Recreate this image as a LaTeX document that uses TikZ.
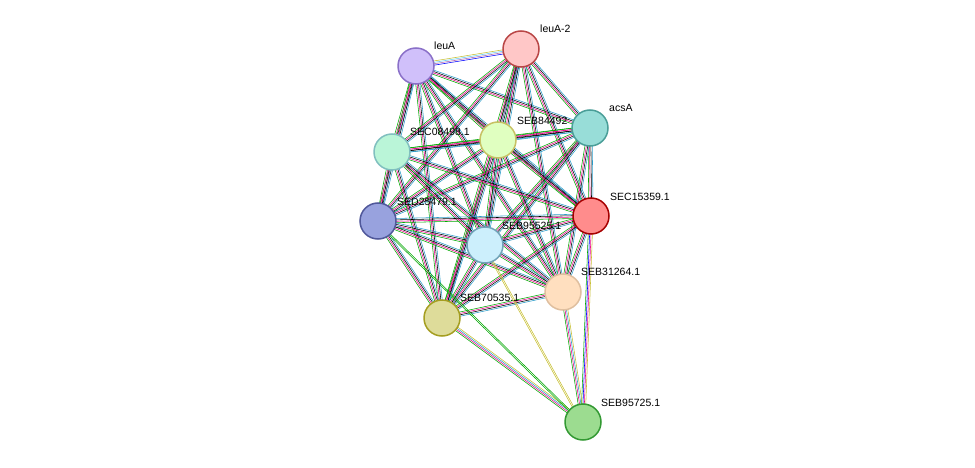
\documentclass[tikz,border=0pt]{standalone}
\usepackage{fontspec}
\setmainfont{Liberation Sans}
\usetikzlibrary{calc}
\definecolor{cleuA}{HTML}{D0C0FA}
\definecolor{cleuAb}{HTML}{8A70C8}
\definecolor{cacsA}{HTML}{98DDD8}
\definecolor{cacsAb}{HTML}{4A9E98}
\definecolor{c84492}{HTML}{E0FFC0}
\definecolor{c08498}{HTML}{BAF5D8}
\definecolor{c25479}{HTML}{98A2DE}
\definecolor{c25479b}{HTML}{50589A}
\definecolor{c95725}{HTML}{9CDC90}
\definecolor{c70535}{HTML}{DEDC9A}
\tikzset{
  prot/.style={circle,draw,line width=1.5pt,minimum size=36pt,inner sep=0pt},
  lab/.style={anchor=south west,inner sep=0pt,font=\fontsize{10.5}{10.5}\selectfont},
  strand/.style={line width=0.55pt},
}
\newcommand\bundle[3]{%
  \foreach \c [count=\i] in {#3}{%
    \pgfmathsetmacro\o{(\i-2.5)*1.4}%
    \draw[strand,\c] ($(#1)!\o pt!90:(#2)$) -- ($(#2)!\o pt!-90:(#1)$);}}
\begin{document}
\begin{tikzpicture}[x=1pt,y=1pt]
  \useasboundingbox (0,0) rectangle (975,-468);
  % positions
  \coordinate (leuA) at (416,-66);
  \coordinate (leuA2) at (521,-49);
  \coordinate (acsA) at (590,-128);
  \coordinate (s84492) at (498,-140);
  \coordinate (s08498) at (392,-152);
  \coordinate (s25479) at (378,-221);
  \coordinate (s15359) at (591,-216);
  \coordinate (s95525) at (485,-245);
  \coordinate (s31264) at (563,-292);
  \coordinate (s70535) at (442,-318);
  \coordinate (s95725) at (583,-422);
  % edges
  \foreach \a/\b in {leuA/acsA,leuA/s84492,leuA/s08498,leuA/s25479,leuA/s15359,leuA/s95525,leuA/s31264,leuA/s70535,
      leuA2/acsA,leuA2/s84492,leuA2/s08498,leuA2/s25479,leuA2/s15359,leuA2/s95525,leuA2/s31264,leuA2/s70535,
      acsA/s84492,acsA/s08498,acsA/s25479,acsA/s15359,acsA/s95525,acsA/s31264,acsA/s70535,
      s84492/s08498,s84492/s25479,s84492/s15359,s84492/s95525,s84492/s31264,s84492/s70535,
      s08498/s25479,s08498/s15359,s08498/s95525,s08498/s31264,s08498/s70535,
      s25479/s15359,s25479/s95525,s25479/s31264,s25479/s70535,
      s15359/s95525,s15359/s31264,s15359/s70535,
      s95525/s31264,s95525/s70535,s31264/s70535}
    {\bundle{\a}{\b}{green!65!black,magenta,black,cyan!80!black}}
  \bundle{leuA}{leuA2}{blue,violet!60,cyan!60,yellow!75!black}
  \bundle{s15359}{s95725}{green!65!black,blue,magenta,yellow!75!black}
  \bundle{s31264}{s95725}{green!65!black,magenta,cyan!80!black,yellow!75!black}
  \bundle{s70535}{s95725}{green!65!black,magenta,cyan!80!black,yellow!75!black}
  \bundle{s25479}{s95725}{green!65!black,green!65!black}
  \bundle{s95525}{s95725}{yellow!75!black,yellow!75!black}
  % proteins
  \node[prot,fill=cleuA,draw=cleuAb] (nleuA) at (leuA) {};
  \node[prot,fill=red!22,draw=red!45!gray] (nleuA2) at (leuA2) {};
  \node[prot,fill=cacsA,draw=cacsAb] (nacsA) at (acsA) {};
  \node[prot,fill=c84492,draw=olive!50] (n84492) at (s84492) {};
  \node[prot,fill=c08498,draw=teal!50] (n08498) at (s08498) {};
  \node[prot,fill=c25479,draw=c25479b] (n25479) at (s25479) {};
  \node[prot,fill=red!45,draw=red!65!black] (n15359) at (s15359) {};
  \node[prot,fill=cyan!20,draw=cyan!40!gray] (n95525) at (s95525) {};
  \node[prot,fill=orange!25,draw=brown!50] (n31264) at (s31264) {};
  \node[prot,fill=c70535,draw=olive!80] (n70535) at (s70535) {};
  \node[prot,fill=c95725,draw=green!50!black!80] (n95725) at (s95725) {};
  % labels
  \node[lab] (tleuA) at ($(leuA)+(18,16)$) {leuA};
  \node[lab] (tleuA2) at ($(leuA2)+(19,16)$) {leuA-2};
  \node[lab] (tacsA) at ($(acsA)+(19,16)$) {acsA};
  \node[lab] (t84492) at ($(s84492)+(19,15)$) {SEB84492};
  \node[lab] (t08498) at ($(s08498)+(18,16)$) {SEC08498.1};
  \node[lab] (t25479) at ($(s25479)+(19,15)$) {SED25479.1};
  \node[lab] (t15359) at ($(s15359)+(19,15)$) {SEC15359.1};
  \node[lab] (t95525) at ($(s95525)+(17,15)$) {SEB95525.1};
  \node[lab] (t31264) at ($(s31264)+(18,16)$) {SEB31264.1};
  \node[lab] (t70535) at ($(s70535)+(18,16)$) {SEB70535.1};
  \node[lab] (t95725) at ($(s95725)+(18,15)$) {SEB95725.1};
\end{tikzpicture}
\end{document}
